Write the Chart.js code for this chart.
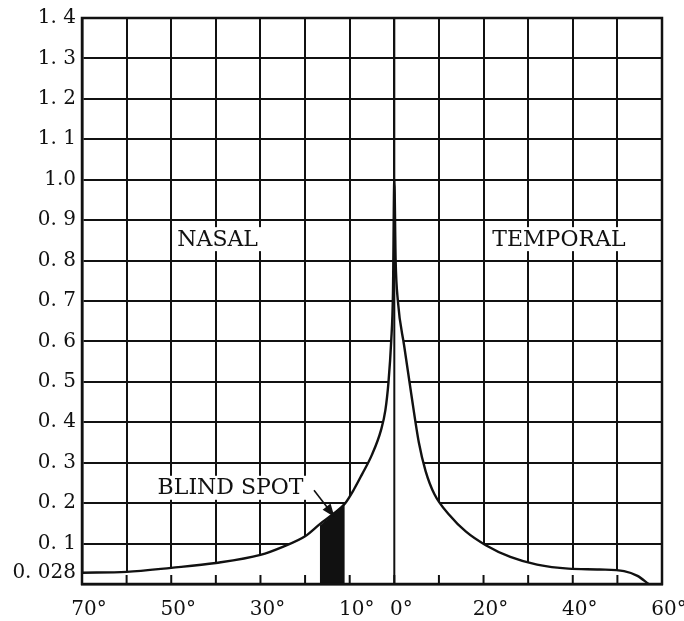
<!DOCTYPE html>
<html>
<head>
<meta charset="utf-8">
<script src="https://cdn.jsdelivr.net/npm/chart.js@4"></script>
<style>
  html, body { margin: 0; padding: 0; background: #fff; }
  canvas { display: block; }
</style>
</head>
<body>
<canvas id="js-chart" width="684" height="621"></canvas>
<script>
// degrees from the fovea: negative = nasal, positive = temporal
const angles = [-70, -60, -50, -40, -30, -25, -20, -16.5, -13.5, -11, -9, -7.3, -5, -3, -2, -1.3, -0.7, -0.3, 0,
  0.3, 0.8, 2.2, 3.8, 5.5, 7, 9, 12.4, 16, 20.5, 26, 32, 39, 46, 51.5, 54.5, 57];
const acuity = [0.028, 0.03, 0.04, 0.052, 0.072, 0.092, 0.118, 0.15, 0.175, 0.2, 0.235, 0.27, 0.32, 0.38, 0.43, 0.5, 0.6, 0.72, 1.0,
  0.8, 0.7, 0.59, 0.47, 0.35, 0.28, 0.222, 0.17, 0.13, 0.096, 0.067, 0.048, 0.038, 0.036, 0.032, 0.02, 0];

const blindAngles = [-16.7, -15, -13, -11.1];
const blindAcuity = [0.145, 0.16, 0.18, 0.2];

const xLabelValues = [-70, -50, -30, -10, 0, 20, 40, 60];
const yTickValues = [0.028, 0.1, 0.2, 0.3, 0.4, 0.5, 0.6, 0.7, 0.8, 0.9, 1.0, 1.1, 1.2, 1.3, 1.4];
const yTickLabels = ["0. 028", "0. 1", "0. 2", "0. 3", "0. 4", "0. 5", "0. 6", "0. 7", "0. 8", "0. 9", "1.0", "1. 1", "1. 2", "1. 3", "1. 4"];

const noteText = ["NASAL", "TEMPORAL", "BLIND SPOT"];

const INK = "#111";

Chart.defaults.font.family = '"DejaVu Serif", serif';
Chart.defaults.color = INK;

const notes = {
  id: "notes",
  afterDatasetsDraw(chart) {
    const { ctx, chartArea: a, scales: { x, y } } = chart;
    const line = (x1, y1, x2, y2) => {
      ctx.beginPath();
      ctx.moveTo(x1, y1);
      ctx.lineTo(x2, y2);
      ctx.stroke();
    };

    ctx.save();
    ctx.strokeStyle = INK;
    ctx.lineCap = "butt";

    // the 0° line runs through the curve
    ctx.lineWidth = 2;
    const x0 = x.getPixelForValue(0);
    line(x0, a.top, x0, a.bottom);

    // little stubs where the grid meets the bottom
    x.ticks.forEach(t => {
      const px = x.getPixelForValue(t.value);
      line(px, a.bottom, px, a.bottom - 9);
    });

    ctx.lineWidth = 2.5;
    ctx.strokeRect(a.left, a.top, a.width, a.height);

    // labels sit on white so the grid breaks round them
    const spots = [[-39.6, 0.853], [36.9, 0.853], [-36.7, 0.238]];
    ctx.font = '22px "DejaVu Serif", serif';
    ctx.textAlign = "center";
    ctx.textBaseline = "middle";
    noteText.forEach((text, i) => {
      const px = x.getPixelForValue(spots[i][0]);
      const py = y.getPixelForValue(spots[i][1]);
      const w = ctx.measureText(text).width;
      ctx.fillStyle = "#fff";
      ctx.fillRect(px - w / 2 - 4, py - 12, w + 8, 24);
      ctx.fillStyle = INK;
      ctx.fillText(text, px, py + 1);
    });

    // arrow to the blind spot
    const sx = x.getPixelForValue(-18), sy = y.getPixelForValue(0.232);
    const tx = x.getPixelForValue(-13.4), ty = y.getPixelForValue(0.166);
    const ang = Math.atan2(ty - sy, tx - sx);
    ctx.lineWidth = 1.6;
    line(sx, sy, tx - 8 * Math.cos(ang), ty - 8 * Math.sin(ang));
    ctx.fillStyle = INK;
    ctx.beginPath();
    ctx.moveTo(tx, ty);
    ctx.lineTo(tx - 13 * Math.cos(ang) + 5 * Math.sin(ang), ty - 13 * Math.sin(ang) - 5 * Math.cos(ang));
    ctx.lineTo(tx - 13 * Math.cos(ang) - 5 * Math.sin(ang), ty - 13 * Math.sin(ang) + 5 * Math.cos(ang));
    ctx.closePath();
    ctx.fill();

    ctx.restore();
  }
};

new Chart(document.getElementById("js-chart"), {
  type: "line",
  data: {
    datasets: [
      {
        label: "blind spot",
        data: blindAngles.map((a, i) => ({ x: a, y: blindAcuity[i] })),
        borderWidth: 0,
        borderColor: INK,
        backgroundColor: INK,
        fill: "origin",
        tension: 0,
        pointRadius: 0,
        order: 0,
      },
      {
        label: "acuity",
        data: angles.map((a, i) => ({ x: a, y: acuity[i] })),
        borderColor: INK,
        borderWidth: 2.4,
        backgroundColor: "#fff",
        fill: "origin",
        cubicInterpolationMode: "monotone",
        pointRadius: 0,
        order: 1,
      },
    ],
  },
  options: {
    responsive: false,
    animation: false,
    devicePixelRatio: 1,
    layout: { padding: { left: 0, top: 16, right: 22, bottom: 0 } },
    plugins: {
      legend: { display: false },
      tooltip: { enabled: false },
    },
    scales: {
      x: {
        type: "linear",
        min: -70,
        max: 60,
        afterFit: (scale) => {
          scale.height = 37;
          scale.paddingLeft = 0;
          scale.paddingRight = 0;
        },
        border: { display: true, color: INK, width: 2.5 },
        grid: { color: INK, lineWidth: 2, drawTicks: false },
        ticks: {
          stepSize: 10,
          autoSkip: false,
          maxRotation: 0,
          padding: 14,
          labelOffset: 7,
          font: { size: 20 },
          callback: (value) => {
            const v = Math.round(value);
            return xLabelValues.includes(v) ? `${Math.abs(v)}°` : "";
          },
        },
      },
      y: {
        type: "linear",
        min: 0,
        max: 1.4,
        afterFit: (scale) => { scale.width = 82; },
        afterBuildTicks: (scale) => {
          scale.ticks = yTickValues.map(v => ({ value: v }));
        },
        border: { display: true, color: INK, width: 2.5 },
        grid: {
          lineWidth: 2,
          drawTicks: false,
          color: (ctx) => (ctx.tick && ctx.tick.value === 0.028 ? "rgba(0,0,0,0)" : INK),
        },
        ticks: {
          padding: 6,
          font: { size: 20 },
          callback: (value) => {
            const i = yTickValues.indexOf(value);
            return i >= 0 ? yTickLabels[i] : "";
          },
        },
      },
    },
  },
  plugins: [notes],
});
</script>
</body>
</html>
